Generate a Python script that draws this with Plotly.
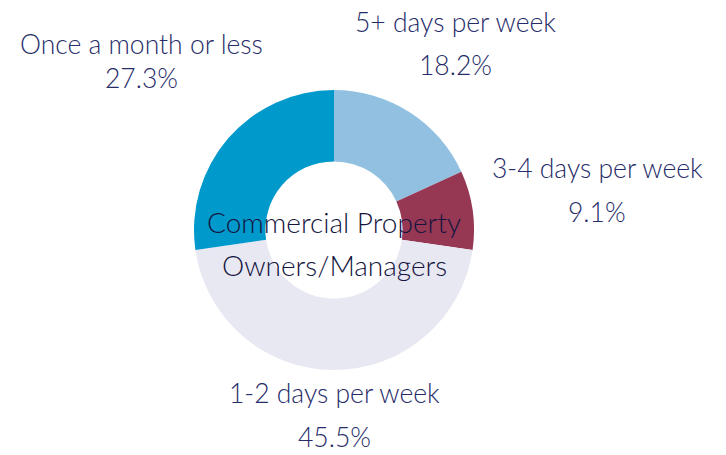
import plotly.graph_objects as go

categories = ["5+ days per week", "3-4 days per week", "1-2 days per week", "Once a month or less"]
values = [18.2, 9.1, 45.5, 27.3]
colors = ["#92C0E0", "#963854", "#E8E8F3", "#0099CC"]
center_lines = ["Commercial Property", "Owners/Managers"]

# label positions (pixel centers of line 1 and line 2) on screen
label_pos = [
    (455, 22, 65),
    (597, 168, 212),
    (334, 393, 437),
    (141, 44, 78),
]

W, H = 726, 455
OFF = 8  # page body margin
PX0, PX1, PY0, PY1 = 194, 474, 90, 370  # pie box on screen
TXT = "#262C68"
FONT = "Lato"


def px(x):
    return (x - PX0) / (PX1 - PX0)


def py(y):
    return (PY1 - y) / (PY1 - PY0)


fig = go.Figure(go.Pie(
    labels=categories,
    values=values,
    hole=0.49,
    sort=False,
    direction="clockwise",
    rotation=0,
    marker=dict(colors=colors, line=dict(width=0)),
    textinfo="none",
    hoverinfo="label+percent",
    showlegend=False,
))

ann = []
for cat, v, (cx, y1, y2) in zip(categories, values, label_pos):
    ann.append(dict(x=px(cx), y=py(y1), xref="paper", yref="paper", text=cat,
                    showarrow=False, xanchor="center", yanchor="middle",
                    font=dict(family=FONT, size=26.5, color=TXT, weight=300)))
    ann.append(dict(x=px(cx), y=py(y2), xref="paper", yref="paper", text=f"{v:.1f}%",
                    showarrow=False, xanchor="center", yanchor="middle",
                    font=dict(family=FONT, size=26.5, color=TXT, weight=300)))

for line, yy in zip(center_lines, [222, 265]):
    ann.append(dict(x=px(334), y=py(yy), xref="paper", yref="paper", text=line,
                    showarrow=False, xanchor="center", yanchor="middle",
                    font=dict(family=FONT, size=28, color="#14143E", weight=300)))

fig.update_layout(
    width=W, height=H,
    margin=dict(l=PX0 - OFF, r=W - PX1 + OFF, t=PY0 - OFF, b=H - PY1 + OFF),
    paper_bgcolor="white", plot_bgcolor="white",
    annotations=ann,
)

fig.write_html("out.html")
